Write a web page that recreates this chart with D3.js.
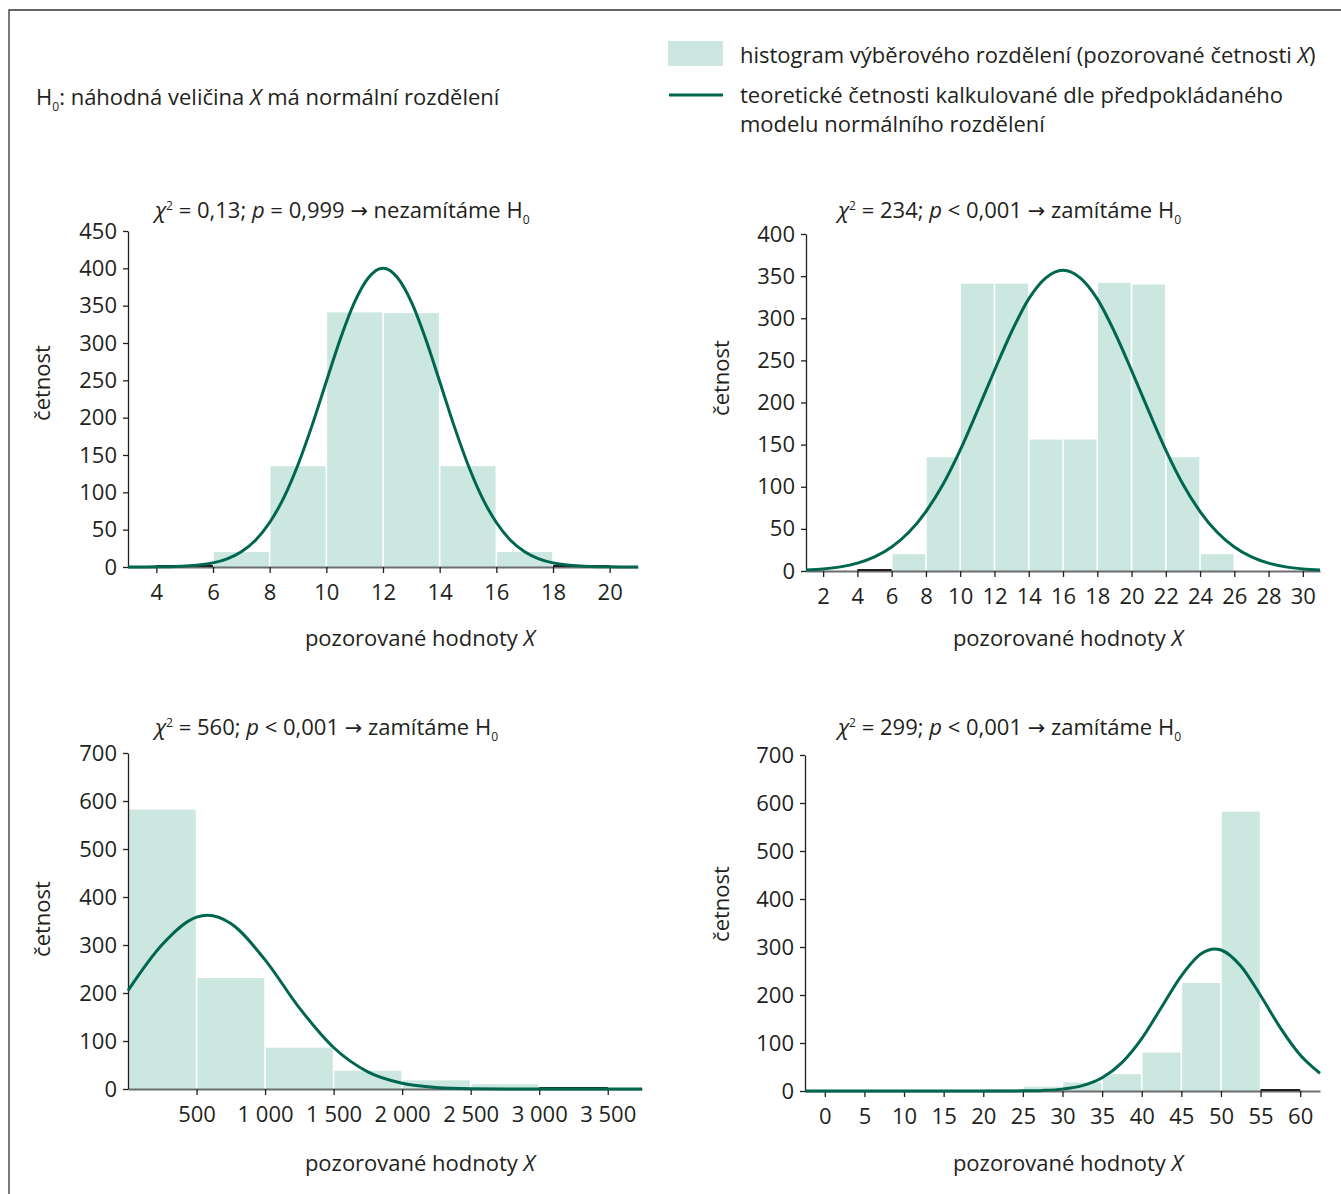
<!DOCTYPE html>
<html>
<head>
<meta charset="utf-8">
<script src="https://cdn.jsdelivr.net/npm/d3@7"></script>
<style>
  body { margin: 0; background: #fff; }
  svg text { font-family: "Open Sans", "Noto Sans", sans-serif; fill: #231f20; }
</style>
</head>
<body>
<div class="js-canvas"></div>
<script>
'use strict';

// ---- data ----
// top left: histogram bins (edges) and observed counts
const binsA = [4, 6, 8, 10, 12, 14, 16, 18, 20];
const countsA = [0, 20, 135, 341, 340, 135, 20, 0];
const curveAx = [3, 3.5, 4, 4.5, 5, 5.5, 6, 6.5, 7, 7.5, 8, 8.5, 9, 9.5, 10, 10.5, 11, 11.5, 12,
    12.5, 13, 13.5, 14, 14.5, 15, 15.5, 16, 16.5, 17, 17.5, 18, 18.5, 19, 19.5, 20, 20.5, 21];
const curveAy = [0, 0.1, 0.2, 0.5, 1.2, 2.6, 5.5, 10.9, 20.4, 35.9, 59.6, 93, 137, 190, 248.5, 306, 355, 388, 400,
    388, 355, 306, 248.5, 190, 137, 93, 59.6, 35.9, 20.4, 10.9, 5.5, 2.6, 1.2, 0.5, 0.2, 0.1, 0];

// top right
const binsB = [4, 6, 8, 10, 12, 14, 16, 18, 20, 22, 24, 26];
const countsB = [0, 20, 135, 341, 341, 156, 156, 342, 340, 135, 20];
const curveBx = [1, 2, 3, 4, 5, 6, 7, 8, 9, 10, 11, 12, 13, 14, 15, 16,
    17, 18, 19, 20, 21, 22, 23, 24, 25, 26, 27, 28, 29, 30, 31];
const curveBy = [1.2, 2.5, 4.9, 9.3, 16.7, 28.4, 45.9, 70.6, 103, 143.5, 190, 238, 284, 323, 348, 357,
    348, 323, 284, 238, 190, 143.5, 103, 70.6, 45.9, 28.4, 16.7, 9.3, 4.9, 2.5, 1.2];

// bottom left
const binsC = [0, 500, 1000, 1500, 2000, 2500, 3000, 3500];
const countsC = [582, 231, 86, 38, 18, 10, 0];
const curveCx = [0, 250, 500, 580, 750, 1000, 1250, 1500, 1750, 2000, 2250, 2500, 2750, 3000, 3250, 3500, 3750];
const curveCy = [205, 301, 358, 362, 345, 269, 169, 86.5, 35.7, 11.9, 3.2, 0.7, 0.1, 0, 0, 0, 0];

// bottom right
const binsD = [20, 25, 30, 35, 40, 45, 50, 55, 60];
const countsD = [4, 9, 18, 35, 80, 225, 582, 0];
const curveDx = [-2.5, 0, 5, 10, 15, 20, 22.5, 25, 27.5, 30, 32.5, 35, 37.5, 40, 42.5, 45, 47.5, 49.2,
    50, 52.5, 55, 57.5, 60, 62.5];
const curveDy = [0, 0, 0, 0, 0, 0, 0.05, 0.3, 1.2, 3.9, 11.1, 27.6, 59.1, 109, 174.6, 240, 286, 296,
    293.8, 260.4, 199, 131.6, 75, 37];

// tick values
const ticksAx = [4, 6, 8, 10, 12, 14, 16, 18, 20];
const ticksAy = [0, 50, 100, 150, 200, 250, 300, 350, 400, 450];
const ticksBx = [2, 4, 6, 8, 10, 12, 14, 16, 18, 20, 22, 24, 26, 28, 30];
const ticksBy = [0, 50, 100, 150, 200, 250, 300, 350, 400];
const ticksCx = [500, 1000, 1500, 2000, 2500, 3000, 3500];
const ticksCy = [0, 100, 200, 300, 400, 500, 600, 700];
const ticksDx = [0, 5, 10, 15, 20, 25, 30, 35, 40, 45, 50, 55, 60];
const ticksDy = [0, 100, 200, 300, 400, 500, 600, 700];

// texts
const titleA = [['χ', 'i'], ['2', 'sup'], [' = 0,13; '], ['p', 'i'], [' = 0,999 '], ['→', 'arrow'], [' nezamítáme H'], ['0', 'sub']];
const titleB = [['χ', 'i'], ['2', 'sup'], [' = 234; '], ['p', 'i'], [' < 0,001 '], ['→', 'arrow'], [' zamítáme H'], ['0', 'sub']];
const titleC = [['χ', 'i'], ['2', 'sup'], [' = 560; '], ['p', 'i'], [' < 0,001 '], ['→', 'arrow'], [' zamítáme H'], ['0', 'sub']];
const titleD = [['χ', 'i'], ['2', 'sup'], [' = 299; '], ['p', 'i'], [' < 0,001 '], ['→', 'arrow'], [' zamítáme H'], ['0', 'sub']];
const hypothesis = [['H'], ['0', 'sub'], [': náhodná veličina '], ['X', 'i'], [' má normální rozdělení']];
const xLabel = [['pozorované hodnoty '], ['X', 'i']];
const yLabel = 'četnost';
const legend1 = [['histogram výběrového rozdělení (pozorované četnosti '], ['X', 'i'], [')']];
const legend2 = [['teoretické četnosti kalkulované dle předpokládaného']];
const legend3 = [['modelu normálního rozdělení']];

// ---- styling / layout ----
const config = {
    width: 1341,
    height: 1194,
    barColor: '#cbe7e0',
    lineColor: '#00664f',
    fontSize: 22
};

const svg = d3.select('.js-canvas')
    .append('svg')
    .attr('width', config.width)
    .attr('height', config.height);

// frame
svg.append('path')
    .attr('d', `M9,${config.height} V10 H${config.width}`)
    .attr('fill', 'none')
    .attr('stroke', '#333')
    .attr('stroke-width', 1.3);

// write text made of segments (italic, sup, sub, arrow)
const rich = (sel, segs, size) => {
    let shift = 0;
    segs.forEach(([t, s]) => {
        const ts = sel.append('tspan').text(t);
        let want = 0;
        if (s === 'i') ts.attr('font-style', 'italic');
        if (s === 'arrow') ts.style('font-family', '"DejaVu Sans", sans-serif').attr('font-size', size * 0.95);
        if (s === 'sup') { want = -8; ts.attr('font-size', size * 0.55); }
        if (s === 'sub') { want = 6; ts.attr('font-size', size * 0.55); }
        if (want !== shift) ts.attr('dy', want - shift);
        shift = want;
    });
};

const label = (x, y, segs, anchor = 'start', size = config.fontSize) => {
    const t = svg.append('text')
        .attr('x', x)
        .attr('y', y)
        .attr('font-size', size)
        .attr('text-anchor', anchor);
    rich(t, segs, size);
    return t;
};

label(36, 105, hypothesis);

// legend
svg.append('rect')
    .attr('x', 668).attr('y', 41)
    .attr('width', 55).attr('height', 25)
    .attr('fill', config.barColor);
svg.append('line')
    .attr('x1', 669).attr('x2', 723)
    .attr('y1', 95).attr('y2', 95)
    .attr('stroke', config.lineColor)
    .attr('stroke-width', 3);
label(740, 63, legend1);
label(740, 103, legend2);
label(740, 132, legend3);

const spaceFmt = d3.formatLocale({ decimal: ',', thousands: ' ', grouping: [3], currency: ['', ''] }).format(',');

const panels = [
    { left: 128, right: 638, top: 231, bottom: 567, xDomain: [3, 21], yMax: 450,
      bins: binsA, counts: countsA, cx: curveAx, cy: curveAy, tx: ticksAx, ty: ticksAy,
      title: titleA, titleX: 155, titleY: 218, xLabX: 420, xLabY: 646, yLabX: 50, yLabY: 383 },
    { left: 806, right: 1320, top: 234, bottom: 571, xDomain: [1, 31], yMax: 400,
      bins: binsB, counts: countsB, cx: curveBx, cy: curveBy, tx: ticksBx, ty: ticksBy,
      title: titleB, titleX: 838, titleY: 218, xLabX: 1068, xLabY: 646, yLabX: 729, yLabY: 378 },
    { left: 128, right: 642, top: 753, bottom: 1089, xDomain: [0, 3750], yMax: 700,
      bins: binsC, counts: countsC, cx: curveCx, cy: curveCy, tx: ticksCx, ty: ticksCy,
      title: titleC, titleX: 155, titleY: 735, xLabX: 420, xLabY: 1171, yLabX: 50, yLabY: 919 },
    { left: 805, right: 1320, top: 755, bottom: 1091, xDomain: [-2.5, 62.5], yMax: 700,
      bins: binsD, counts: countsD, cx: curveDx, cy: curveDy, tx: ticksDx, ty: ticksDy,
      title: titleD, titleX: 838, titleY: 735, xLabX: 1068, xLabY: 1171, yLabX: 729, yLabY: 904 }
];

const drawPanel = (p) => {
    const x = d3.scaleLinear().domain(p.xDomain).range([p.left, p.right]);
    const y = d3.scaleLinear().domain([0, p.yMax]).range([p.bottom, p.top]);
    const g = svg.append('g');

    const bars = p.counts.map((c, i) => ({ x0: p.bins[i], x1: p.bins[i + 1], value: c }));

    // histogram bars, white gaps between
    g.selectAll('rect.bar')
        .data(bars.filter(d => d.value > 0))
        .enter()
        .append('rect')
        .attr('class', 'bar')
        .attr('x', d => x(d.x0) + 0.8)
        .attr('width', d => x(d.x1) - x(d.x0) - 1.6)
        .attr('y', d => y(d.value))
        .attr('height', d => y(0) - y(d.value))
        .attr('fill', config.barColor);

    // x axis
    const xAxis = d3.axisBottom(x)
        .tickValues(p.tx)
        .tickSize(6)
        .tickSizeOuter(0)
        .tickFormat(spaceFmt);
    const xg = g.append('g')
        .attr('transform', `translate(0, ${p.bottom})`)
        .call(xAxis);
    xg.select('.domain').attr('stroke', '#6d6e71').attr('stroke-width', 2.2);
    xg.selectAll('.tick line').attr('stroke', '#231f20').attr('stroke-width', 1.3);
    xg.selectAll('.tick text')
        .attr('font-size', config.fontSize)
        .attr('font-family', null)
        .attr('dy', '1.05em')
        .attr('y', 10);

    // empty bins show as a dark segment on the axis
    g.selectAll('line.empty')
        .data(bars.filter(d => d.value === 0))
        .enter()
        .append('line')
        .attr('class', 'empty')
        .attr('x1', d => x(d.x0)).attr('x2', d => x(d.x1))
        .attr('y1', y(0) - 1).attr('y2', y(0) - 1)
        .attr('stroke', '#231f20')
        .attr('stroke-width', 2.2);

    // y axis
    const yAxis = d3.axisLeft(y)
        .tickValues(p.ty)
        .tickSize(5)
        .tickSizeOuter(0)
        .tickPadding(6);
    const yg = g.append('g')
        .attr('transform', `translate(${p.left}, 0)`)
        .call(yAxis);
    yg.select('.domain').attr('stroke', '#231f20').attr('stroke-width', 1.3);
    yg.selectAll('.tick line').attr('stroke', '#231f20').attr('stroke-width', 1.3);
    yg.selectAll('.tick text')
        .attr('font-size', config.fontSize)
        .attr('font-family', null);

    // theoretical normal curve
    const pts = p.cx.map((v, i) => [v, p.cy[i]]);
    const line = d3.line()
        .x(d => x(d[0]))
        .y(d => y(d[1]))
        .curve(d3.curveMonotoneX);
    g.append('path')
        .datum(pts)
        .attr('d', line)
        .attr('fill', 'none')
        .attr('stroke', config.lineColor)
        .attr('stroke-width', 3);

    // texts
    label(p.titleX, p.titleY, p.title);
    label(p.xLabX, p.xLabY, xLabel, 'middle');
    svg.append('text')
        .attr('transform', `translate(${p.yLabX}, ${p.yLabY}) rotate(-90)`)
        .attr('text-anchor', 'middle')
        .attr('font-size', config.fontSize)
        .text(yLabel);
};

panels.forEach(drawPanel);
</script>
</body>
</html>
